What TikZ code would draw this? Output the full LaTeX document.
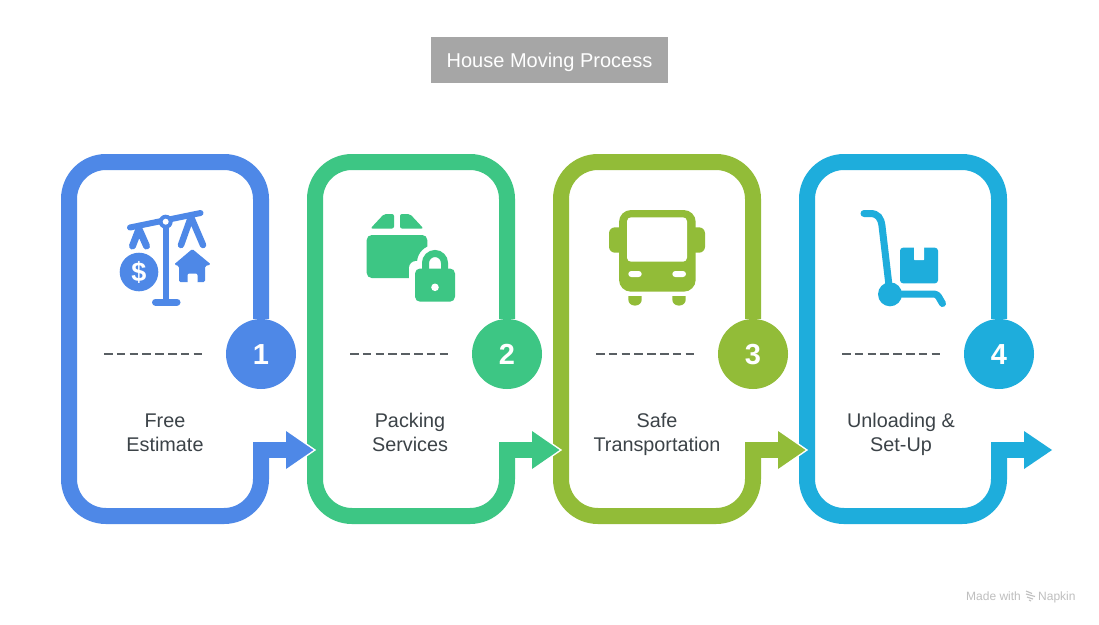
\documentclass[tikz,border=0pt]{standalone}
\usepackage{fontspec}
\setmainfont{Liberation Sans}
\usetikzlibrary{calc}
\definecolor{blueone}{HTML}{4E88E7}
\definecolor{greentwo}{HTML}{3DC684}
\definecolor{olivethree}{HTML}{92BC38}
\definecolor{cyanfour}{HTML}{1EADDC}
\definecolor{inktext}{HTML}{3C4348}
\tikzset{
	frame/.style = {line width=16pt},
	numdot/.style = {circle, minimum size=70pt, inner sep=0pt, text=white, text height=20pt, text depth=0pt, font=\fontsize{29}{29}\selectfont\bfseries},
	steplabel/.style = {align=center, text=inktext, font=\fontsize{19.8}{24}\selectfont},
	rule/.style = {line width=2pt, color=inktext!85, dash pattern=on 8.6pt off 4.2pt},
	head/.style = {preaction={draw=white, line width=3pt, miter limit=10}},
	foot/.style = {text=black!25, inner sep=0pt, anchor=base west, font=\fontsize{12}{12}\selectfont},
}
\begin{document}
\begin{tikzpicture}[x=1pt,y=-1pt]
	\useasboundingbox (0,0) rectangle (1099,624);
	\fill[white] (0,0) rectangle (1099,624);
	\node[fill=black!35, minimum width=237pt, minimum height=46pt, inner sep=0pt, text=white, text height=14.5pt, text depth=0pt, font=\fontsize{20}{20}\selectfont] (title) at (549.5,60) {House Moving Process};
%
	\node[numdot, fill=blueone] (num1) at (261,354) {1};
	\node[numdot, fill=greentwo] (num2) at (507,354) {2};
	\node[numdot, fill=olivethree] (num3) at (753,354) {3};
	\node[numdot, fill=cyanfour] (num4) at (999,354) {4};
	\draw[frame, blueone, rounded corners=37pt] (num1.north) -- (261,162) -- (69,162) -- (69,516) -- (261,516) -- (261,442);
	\draw[frame, greentwo, rounded corners=37pt] (num2.north) -- (507,162) -- (315,162) -- (315,516) -- (507,516) -- (507,442);
	\draw[frame, olivethree, rounded corners=37pt] (num3.north) -- (753,162) -- (561,162) -- (561,516) -- (753,516) -- (753,442);
	\draw[frame, cyanfour, rounded corners=37pt] (num4.north) -- (999,162) -- (807,162) -- (807,516) -- (999,516) -- (999,442);
%
	\coordinate (tip1) at (286,450);
	\coordinate (tip2) at (532,450);
	\coordinate (tip3) at (778,450);
	\coordinate (tip4) at (1024,450);
	\fill[head, blueone] (286,431) -- (313.5,450) -- (286,469) -- cycle;
	\fill[head, greentwo] (532,431) -- (559.5,450) -- (532,469) -- cycle;
	\fill[head, olivethree] (778,431) -- (805.5,450) -- (778,469) -- cycle;
	\fill[cyanfour] (1024,431) -- (1052,450) -- (1024,469) -- cycle;
	\draw[frame, blueone] (253,450) -- ($(tip1)+(1,0)$);
	\draw[frame, greentwo] (499,450) -- ($(tip2)+(1,0)$);
	\draw[frame, olivethree] (745,450) -- ($(tip3)+(1,0)$);
	\draw[frame, cyanfour] (991,450) -- ($(tip4)+(1,0)$);
%
	\draw[rule] (104,354) -- (203,354);
	\draw[rule] (350,354) -- (449,354);
	\draw[rule] (596,354) -- (695,354);
	\draw[rule] (842,354) -- (941,354);
	\node[steplabel] (label1) at (165,434.5) {\strut Free\\Estimate\strut};
	\node[steplabel] (label2) at (410,434.5) {\strut Packing\\Services\strut};
	\node[steplabel] (label3) at (657,434.5) {\strut Safe\\Transportation\strut};
	\node[steplabel] (label4) at (901,434.5) {\strut Unloading \&\\Set-Up\strut};
%
	% scale with coin and house
	\draw[blueone, line width=6pt, line cap=round] (130,227.5) -- (200.5,213);
	\draw[blueone, line width=7pt, line cap=round, line join=round] (132.5,246) -- (139,229) -- (146.5,246);
	\draw[blueone, line width=6.5pt, line cap=round, line join=round] (181,245) -- (191,217) -- (203,245);
	\draw[blueone, line width=5.5pt] (166,222) -- (166,302);
	\draw[blueone, line width=7pt, line cap=round] (155.5,302) -- (177,302);
	\fill[blueone] (165.7,221.7) circle (7);
	\fill[white] (165.7,221.7) circle (3);
	\fill[blueone] (139,272) circle (19.3);
	\node[text=white, inner sep=0pt, font=\fontsize{27}{27}\selectfont\bfseries] (dollar) at (139,272) {\$};
	\fill[blueone, rounded corners=1.5pt] (192.3,249) -- (211,264.5) -- (205,266) -- (205,282) -- (179,282) -- (179,266) -- (174,264.5) -- cycle;
	\fill[white, rounded corners=2pt] (187.5,284) -- (187.5,273.5) -- (197.5,273.5) -- (197.5,284) -- cycle;
%
	% parcel with padlock
	\fill[greentwo, rounded corners=2pt] (370.5,228.5) -- (384,214) -- (394,214) -- (394,228.5) -- cycle;
	\fill[greentwo, rounded corners=2pt] (400,214) -- (410,214) -- (423.5,228.5) -- (400,228.5) -- cycle;
	\fill[greentwo, rounded corners=5pt] (366.7,235) -- (427.3,235) -- (427.3,278) -- (366.7,278) -- cycle;
	\fill[white] (435,263) circle (18);
	\fill[white, rounded corners=7pt] (409,261) rectangle (461,308);
	\draw[greentwo, line width=7pt] (425.5,272) -- (425.5,263) arc (180:360:9.5) -- (444.5,272);
	\fill[greentwo, rounded corners=5pt] (415,268.5) rectangle (455,301.7);
	\fill[white] (435,287.3) circle (3.8);
%
	% bus
	\fill[olivethree, rounded corners=6pt] (609,227.3) rectangle (630,252.7);
	\fill[olivethree, rounded corners=6pt] (684,227.3) rectangle (705,252.7);
	\fill[olivethree, rounded corners=12pt] (619,210) rectangle (695.7,291.7);
	\fill[white, rounded corners=4pt] (627,217.3) rectangle (687,261.7);
	\fill[white, rounded corners=3pt] (628.3,271) rectangle (641.7,277);
	\fill[white, rounded corners=3pt] (672.3,271) rectangle (686,277);
	\fill[olivethree] (628.3,296) -- (641.7,296) [rounded corners=6pt] -- (641.7,305.5) -- (628.3,305.5) [sharp corners] -- cycle;
	\fill[olivethree] (672.3,296) -- (685.7,296) [rounded corners=6pt] -- (685.7,305.5) -- (672.3,305.5) [sharp corners] -- cycle;
%
	% hand truck
	\draw[cyanfour, line width=7pt, line cap=round] (864,213.5) -- (870,213.5) .. controls (878,213.5) and (881,218) .. (882,226) -- (890,294);
	\fill[cyanfour] (890,294.3) circle (12);
	\draw[cyanfour, line width=7pt, line cap=round, line join=round, rounded corners=3pt] (890,294) -- (937,294) -- (942.5,303.5);
	\fill[cyanfour, rounded corners=3pt] (900,247.7) rectangle (938,283.3);
	\fill[white, rounded corners=0.5pt] (914,246) rectangle (924,260);
%
	\node[foot] (made) at (966,600) {Made with};
	\node[foot] (napkin) at (1038,600) {Napkin};
	\draw[black!25, line width=1.1pt] (1026,591) -- (1032,593.5) (1026,594) -- (1035,596.5) (1027,597) -- (1033,599) (1029,600) -- (1031,601);
\end{tikzpicture}
\end{document}
